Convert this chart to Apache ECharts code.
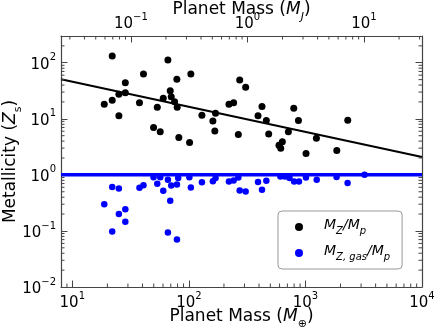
<!DOCTYPE html>
<html>
<head>
<meta charset="utf-8">
<title>Metallicity vs planet mass</title>
<script src="https://cdn.jsdelivr.net/npm/echarts@6/dist/echarts.min.js"></script>
</head>
<body style="margin:0">
<div id="main" style="width:436px;height:327px;"></div>
<script>
// total heavy-element metallicity, Z / Zs (black)
var massZ = [18.8, 22.0, 22.0, 25.1, 25.1, 28.5, 28.5, 37.7, 40.8, 49.8, 56.8, 53.6, 66.1, 60.3, 69.2,
  70.6, 75.4, 79.4, 78.9, 82.0, 104, 101.4, 129.4, 160.7, 169.4, 167, 272.9, 307, 220.8, 242,
  424, 392, 462, 265.7, 484, 794, 871, 714, 593, 634, 614, 1242, 1012, 1858, 2307];
var metalZ = [18.2, 131.6, 21.4, 11.3, 27.4, 44.1, 29.2, 19.4, 63.0, 6.97, 5.85, 16.1, 111.7, 23.3, 31.8,
  24.8, 20.2, 16.1, 50.7, 4.62, 63.0, 3.78, 11.6, 9.18, 12.6, 6.09, 49.2, 36.5, 18.2, 19.4,
  16.5, 11.3, 9.29, 5.24, 5.38, 15.5, 9.29, 5.85, 3.39, 3.88, 3.00, 4.52, 2.40, 2.72, 9.38];

// metals in the envelope gas only (blue)
var massGas = [18.8, 22.0, 25.1, 25.1, 28.5, 28.5, 22.0, 37.7, 40.8, 49.8, 56.8, 53.6, 60.3, 66.1, 70.6,
  69.2, 79.0, 81.0, 66.1, 79.0, 101, 104, 129.4, 160.7, 169.4, 220.8, 242, 265.7, 272.9, 307,
  392, 424, 462, 610, 665, 730, 800, 880, 1010, 1250, 1850, 2300, 3214];
var metalGas = [0.30, 0.607, 0.570, 0.200, 0.243, 0.146, 0.098, 0.590, 0.653, 0.906, 0.906, 0.695, 0.521, 0.819, 0.647,
  0.344, 0.675, 0.877, 0.094, 0.070, 0.906, 0.597, 0.738, 0.769, 0.877, 0.764, 0.794, 0.899, 0.527, 0.507,
  0.745, 0.543, 0.785, 0.938, 0.938, 0.877, 0.764, 0.764, 0.899, 0.819, 0.918, 0.714, 1.0];

// fitted trend and the Z = Zs line
var fitMass = [8, 10000];
var fitZ = [50.7, 2.08];
var unitMass = [8, 10000];
var unitZ = [1, 1];

// minor tick values (log axes)
var minorEarth = [9, 20, 30, 40, 50, 60, 70, 80, 90, 200, 300, 400, 500, 600, 700, 800, 900,
  2000, 3000, 4000, 5000, 6000, 7000, 8000, 9000];
var minorJup = [0.03, 0.04, 0.05, 0.06, 0.07, 0.08, 0.09, 0.2, 0.3, 0.4, 0.5, 0.6, 0.7, 0.8, 0.9,
  2, 3, 4, 5, 6, 7, 8, 9, 20, 30];
var minorMetal = [0.02, 0.03, 0.04, 0.05, 0.06, 0.07, 0.08, 0.09, 0.2, 0.3, 0.4, 0.5, 0.6, 0.7, 0.8, 0.9,
  2, 3, 4, 5, 6, 7, 8, 9, 20, 30, 40, 50, 60, 70, 80, 90, 200];

var xMin = 8, xMax = 10000;
var yMin = 0.01, yMax = 300;
var earthPerJup = 317.8;

function pairs(xs, ys) {
  return xs.map(function (x, i) { return [x, ys[i]]; });
}

function sci(v) {
  var e = Math.log10(v);
  if (Math.abs(e - Math.round(e)) > 1e-6) return '';
  e = Math.round(e);
  return '{b|10}{s|' + (e < 0 ? '\u2212' + (-e) : e) + '}';
}

// short inward minor ticks, placed with the axes' own scales
function minorTicks(values, side, xi) {
  return {
    type: 'custom', silent: true, xAxisIndex: xi, yAxisIndex: 0, z: 10, clip: false,
    data: values.map(function (v) { return [v]; }),
    renderItem: function (params, api) {
      var cs = params.coordSys, v = api.value(0), len = 3.5, s;
      if (side === 'bottom' || side === 'top') {
        var x = api.coord([v, 1])[0];
        var y0 = side === 'bottom' ? cs.y + cs.height : cs.y;
        s = { x1: x, x2: x, y1: y0, y2: side === 'bottom' ? y0 - len : y0 + len };
      } else {
        var y = api.coord([xMin, v])[1];
        var x0 = side === 'left' ? cs.x : cs.x + cs.width;
        s = { y1: y, y2: y, x1: x0, x2: side === 'left' ? x0 + len : x0 - len };
      }
      return { type: 'line', shape: s, style: { stroke: '#444', lineWidth: 1 } };
    }
  };
}

var tickRich = {
  b: { fontSize: 15, color: '#000', fontFamily: 'DejaVu Sans', lineHeight: 20, verticalAlign: 'bottom' },
  s: { fontSize: 10, color: '#000', fontFamily: 'DejaVu Sans', verticalAlign: 'top', lineHeight: 20 }
};
function nameRich(subItalic) {
  return {
    t: { fontSize: 17, fontFamily: 'DejaVu Sans', color: '#000', verticalAlign: 'top', lineHeight: 22 },
    i: { fontSize: 17, fontStyle: 'italic', fontFamily: 'DejaVu Sans', color: '#000', verticalAlign: 'top', lineHeight: 22 },
    d: { fontSize: 11, fontStyle: subItalic ? 'italic' : 'normal', fontFamily: 'DejaVu Sans', color: '#000', verticalAlign: 'bottom', lineHeight: 20 }
  };
}
var frame = { show: true, lineStyle: { color: '#444', width: 1.2 } };
var ticksIn = { show: true, inside: true, length: 6.5, lineStyle: { color: '#444', width: 1 } };

var myChart = echarts.init(document.getElementById('main'));
myChart.setOption({
  animation: false,
  grid: { left: 61, right: 14, top: 36, bottom: 40, outerBoundsMode: 'none' },
  legend: {
    left: 278, top: 211,
    orient: 'vertical',
    data: ['total', 'gas'],
    itemWidth: 8, itemHeight: 8, itemGap: 8,
    padding: [7, 12, 7, 17],
    borderColor: '#999', borderWidth: 1, borderRadius: 4,
    formatter: function (n) {
      return n === 'total' ? '{i|M}{d|Z}{i|/M}{d|p}' : '{i|M}{d|Z, gas}{i|/M}{d|p}';
    },
    textStyle: {
      padding: [0, 0, 0, 16],
      rich: {
        i: { fontSize: 14, fontStyle: 'italic', fontFamily: 'DejaVu Sans', color: '#000', verticalAlign: 'top', lineHeight: 18 },
        d: { fontSize: 10, fontStyle: 'italic', fontFamily: 'DejaVu Sans', color: '#000', verticalAlign: 'bottom', lineHeight: 18 }
      }
    }
  },
  xAxis: [{
    type: 'log', min: xMin, max: xMax, position: 'bottom',
    name: '{t|Planet Mass (}{i|M}{d|\u2295}{t|)}', nameLocation: 'middle', nameGap: 21, nameMoveOverlap: false,
    nameTextStyle: { rich: nameRich(false) },
    axisLine: frame, axisTick: ticksIn, splitLine: { show: false },
    axisLabel: { formatter: sci, rich: tickRich, margin: 4, showMinLabel: false, showMaxLabel: true }
  }, {
    type: 'log', min: xMin / earthPerJup, max: xMax / earthPerJup, position: 'top',
    name: '{t|Planet Mass (}{i|M}{d|J}{t|)}', nameLocation: 'middle', nameGap: 13, nameMoveOverlap: false,
    nameTextStyle: { rich: nameRich(true) },
    axisLine: frame, axisTick: ticksIn, splitLine: { show: false },
    axisLabel: { formatter: sci, rich: tickRich, margin: 4, showMinLabel: false, showMaxLabel: false }
  }],
  yAxis: [{
    type: 'log', min: yMin, max: yMax, position: 'left',
    name: '{t|Metallicity (}{i|Z}{d|s}{t|)}', nameLocation: 'middle', nameGap: 37, nameMoveOverlap: false,
    nameTextStyle: { rich: nameRich(false) },
    axisLine: frame, axisTick: ticksIn, splitLine: { show: false },
    axisLabel: { formatter: sci, rich: tickRich, margin: 5, showMaxLabel: false }
  }, {
    type: 'log', min: yMin, max: yMax, position: 'right',
    axisLine: frame, axisTick: ticksIn, splitLine: { show: false },
    axisLabel: { show: false }
  }],
  series: [{
    type: 'line', data: pairs(fitMass, fitZ), symbol: 'none', silent: true,
    lineStyle: { color: '#000', width: 2 }, z: 3
  }, {
    name: 'total', type: 'scatter', data: pairs(massZ, metalZ),
    symbol: 'circle', symbolSize: 7, itemStyle: { color: '#000', opacity: 1 }, z: 2
  }, {
    type: 'line', data: pairs(unitMass, unitZ), symbol: 'none', silent: true,
    lineStyle: { color: '#0000ff', width: 3.5 }, z: 4
  }, {
    name: 'gas', type: 'scatter', data: pairs(massGas, metalGas),
    symbol: 'circle', symbolSize: 6.5, itemStyle: { color: '#0000ff', opacity: 1 }, z: 5
  },
  minorTicks(minorEarth, 'bottom', 0),
  minorTicks(minorJup, 'top', 1),
  minorTicks(minorMetal, 'left', 0),
  minorTicks(minorMetal, 'right', 0)]
});
</script>
</body>
</html>
